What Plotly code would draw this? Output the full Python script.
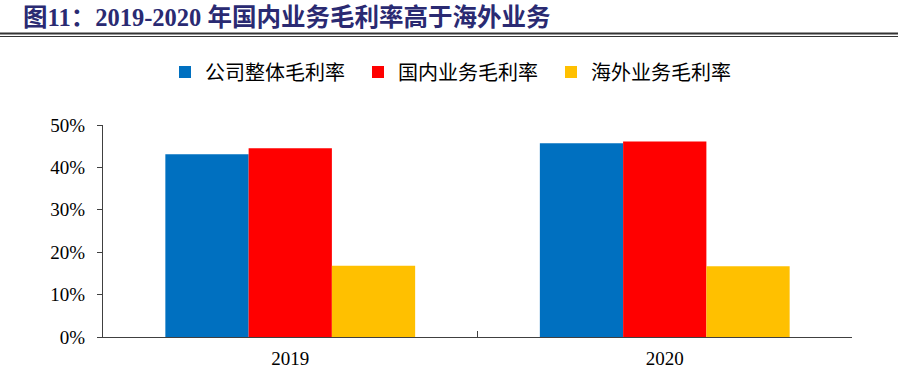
import plotly.graph_objects as go

categories = ["2019", "2020"]
series_names = ["公司整体毛利率", "国内业务毛利率", "海外业务毛利率"]
overall = [0.431, 0.457]
domestic = [0.445, 0.461]
overseas = [0.168, 0.167]
colors = ["#0070C0", "#FF0000", "#FFC000"]
title_text = "图11：2019-2020 年国内业务毛利率高于海外业务"

W, H = 898, 378
L, R, T, B = 103, 46, 125, 41
pw, ph = W - L - R, H - T - B

fig = go.Figure()
for name, vals, col in zip(series_names, [overall, domestic, overseas], colors):
    fig.add_trace(go.Bar(x=categories, y=vals, name=name, marker=dict(color=col, line=dict(width=0))))

def px_x(x):
    return (x - L) / pw

def px_y(y):
    return (H - B - y) / ph

fig.update_layout(
    width=W, height=H,
    margin=dict(l=L, r=R, t=T, b=B, autoexpand=False),
    paper_bgcolor="white", plot_bgcolor="white",
    barmode="group", bargap=0.333, bargroupgap=0,
    legend=dict(orientation="h", x=px_x(165), xanchor="left", y=px_y(72), yanchor="middle",
                font=dict(family="Noto Sans CJK SC", size=20, color="#000000"),
                entrywidth=148, entrywidthmode="pixels", itemwidth=30,
                bgcolor="rgba(0,0,0,0)", traceorder="normal"),
    showlegend=True,
    font=dict(family="Liberation Serif", color="#000000"),
)
fig.add_annotation(text="<b>" + title_text + "</b>", xref="paper", yref="paper",
                   x=px_x(286), xanchor="center", y=px_y(18), yanchor="middle", showarrow=False,
                   font=dict(family="Liberation Serif, Noto Sans CJK SC", size=24.5, color="#2A2A72"))
fig.update_yaxes(range=[0, 0.5], dtick=0.1, tickformat=".0%", showgrid=False, zeroline=False,
                 showline=True, linecolor="#404040", linewidth=1,
                 ticks="outside", ticklen=5, tickcolor="#404040", ticklabelstandoff=8,
                 tickfont=dict(family="Liberation Serif", size=19, color="#000000"))
fig.update_xaxes(showgrid=False, showline=True, linecolor="#404040", linewidth=1,
                 ticks="inside", ticklen=6, tickcolor="#404040", tickson="boundaries",
                 ticklabelstandoff=4,
                 tickfont=dict(family="Liberation Serif", size=19, color="#000000"))

# title underline (double rule)
fig.add_shape(type="line", xref="paper", yref="paper", x0=px_x(0), x1=px_x(W),
              y0=px_y(33.5), y1=px_y(33.5), line=dict(color="#333333", width=2))
fig.add_shape(type="line", xref="paper", yref="paper", x0=px_x(0), x1=px_x(W),
              y0=px_y(36.5), y1=px_y(36.5), line=dict(color="#333333", width=1))

fig.write_html("out.html", config={"displayModeBar": False},
               post_script="document.body.style.margin='0';")
